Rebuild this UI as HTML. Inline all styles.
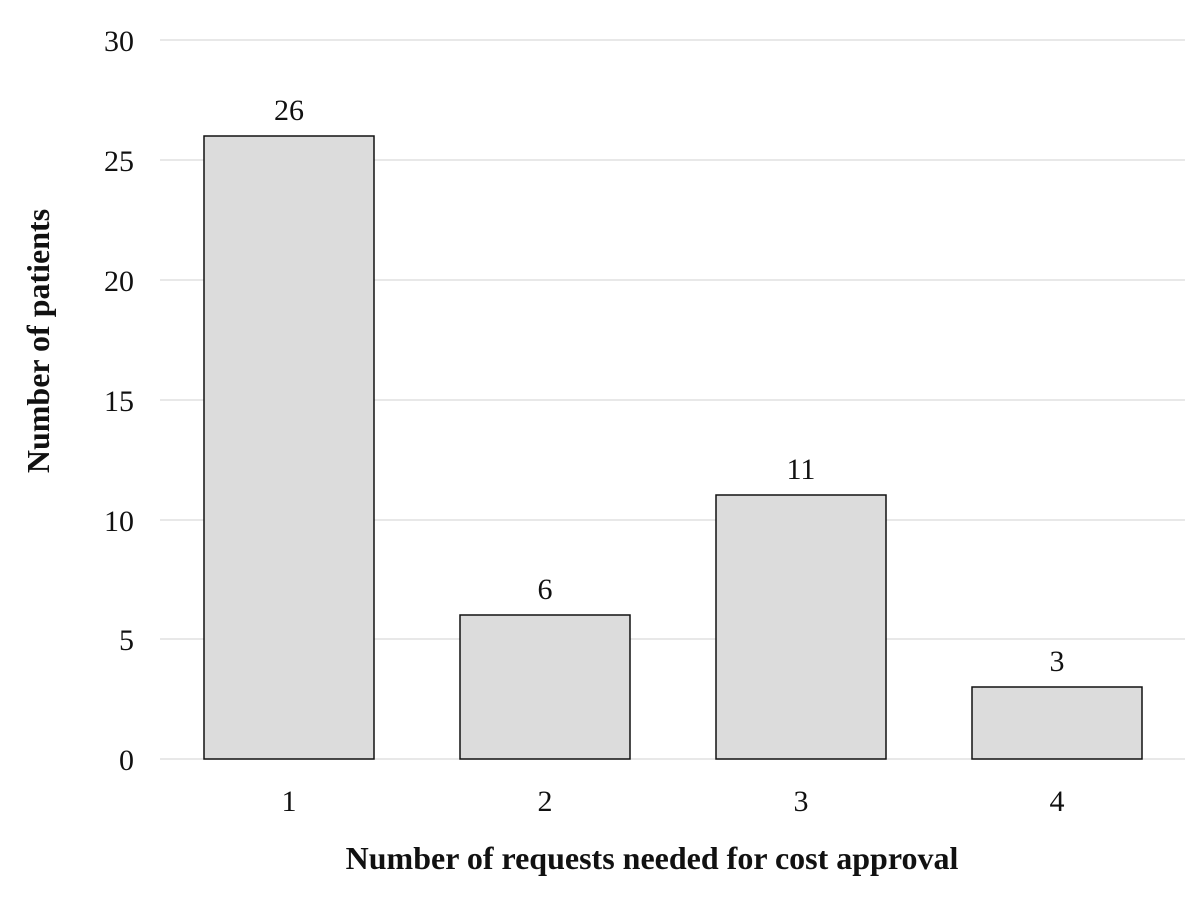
<!DOCTYPE html>
<html><head><style>
body{margin:0;background:#fff}
svg{display:block}
text{font-family:"Liberation Serif",serif;fill:#111}
</style></head><body>
<svg width="1200" height="897" xmlns="http://www.w3.org/2000/svg">
<g stroke="#d9d9d9" stroke-width="1.3">
<line x1="160" x2="1185" y1="40" y2="40"/>
<line x1="160" x2="1185" y1="160" y2="160"/>
<line x1="160" x2="1185" y1="280" y2="280"/>
<line x1="160" x2="1185" y1="400" y2="400"/>
<line x1="160" x2="1185" y1="520" y2="520"/>
<line x1="160" x2="1185" y1="639" y2="639"/>
<line x1="160" x2="1185" y1="759" y2="759"/>
</g>
<g font-size="30" text-anchor="end">
<text x="134" y="51">30</text>
<text x="134" y="171">25</text>
<text x="134" y="291">20</text>
<text x="134" y="411">15</text>
<text x="134" y="531">10</text>
<text x="134" y="650">5</text>
<text x="134" y="770">0</text>
</g>
<g fill="#dcdcdc" stroke="#111" stroke-width="1.5">
<rect x="204" y="136" width="170" height="623"/>
<rect x="460" y="615" width="170" height="144"/>
<rect x="716" y="495" width="170" height="264"/>
<rect x="972" y="687" width="170" height="72"/>
</g>
<g font-size="30" text-anchor="middle">
<text x="289" y="120">26</text>
<text x="545" y="599">6</text>
<text x="801" y="479">11</text>
<text x="1057" y="671">3</text>
<text x="289" y="811">1</text>
<text x="545" y="811">2</text>
<text x="801" y="811">3</text>
<text x="1057" y="811">4</text>
<text x="652" y="869" font-size="32" font-weight="bold">Number of requests needed for cost approval</text>
<text transform="translate(49,341) rotate(-90)" font-size="32" font-weight="bold">Number of patients</text>
</g>
</svg>
</body></html>
